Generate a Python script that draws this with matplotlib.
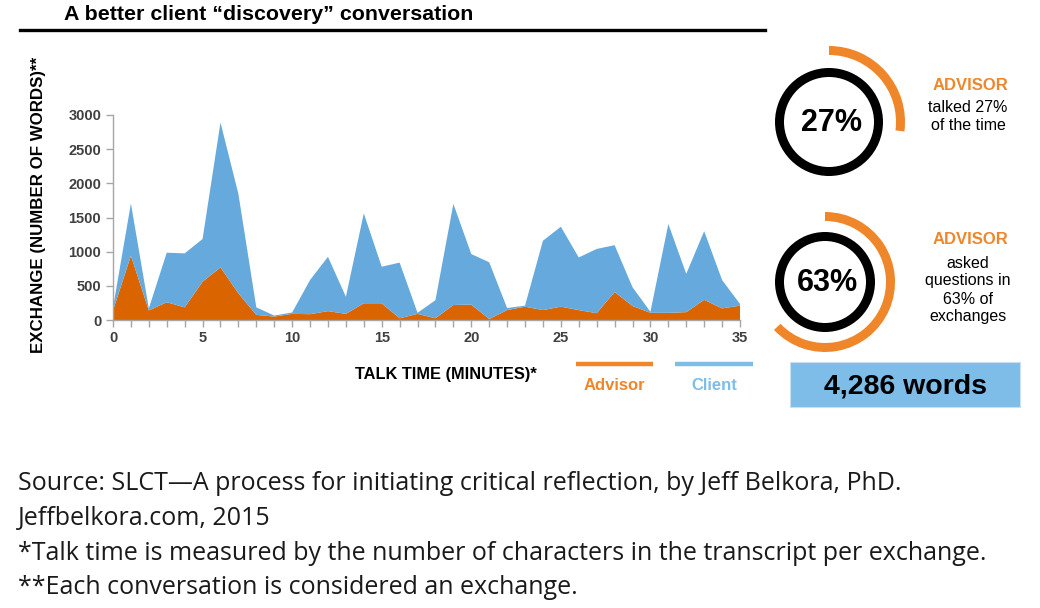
import matplotlib
matplotlib.use("Agg")
import matplotlib.pyplot as plt
from matplotlib.patches import Wedge, Rectangle
from matplotlib.lines import Line2D
from matplotlib.ticker import MultipleLocator

# ---- data ----
minutes = list(range(36))
advisor_words = [140, 940, 140, 260, 185, 560, 770, 390, 75, 50, 90, 85, 130, 90,
                 245, 245, 25, 90, 25, 220, 225, 15, 145, 195, 145, 195, 145, 100,
                 410, 205, 105, 105, 115, 295, 170, 210]
client_words = [40, 765, 30, 725, 790, 625, 2120, 1455, 110, 15, 20, 500, 795, 250,
                1315, 535, 815, 15, 265, 1480, 740, 830, 30, 15, 1015, 1170, 770, 940,
                685, 275, 15, 1300, 560, 1005, 415, 25]
series_names = ["Advisor", "Client"]
advisor_talk_pct = 27
advisor_question_pct = 63
total_words = 4286

title = "A better client \u201cdiscovery\u201d conversation"
footnotes = [
    "Source: SLCT\u2014A process for initiating critical reflection, by Jeff Belkora, PhD.",
    "Jeffbelkora.com, 2015",
    "*Talk time is measured by the number of characters in the transcript per exchange.",
    "**Each conversation is considered an exchange.",
]

ORANGE_FILL = "#D96400"
BLUE_FILL = "#66A9DC"
ORANGE = "#F0862A"
BLUE = "#7DBDE8"
W, H = 1040, 608
SANS = ["Liberation Sans", "DejaVu Sans"]
NARROW = ["Liberation Sans Narrow", "Liberation Sans", "DejaVu Sans"]

fig = plt.figure(figsize=(W / 100, H / 100), dpi=100)
fig.patch.set_facecolor("white")

# ---- main stacked area chart ----
ax = fig.add_axes([113 / W, 288 / H, 627 / W, 205 / H])
ax.stackplot(minutes, advisor_words, client_words,
             colors=[ORANGE_FILL, BLUE_FILL], linewidth=0)
ax.set_xlim(0, 35)
ax.set_ylim(0, 3000)
ax.xaxis.set_major_locator(MultipleLocator(5))
ax.xaxis.set_minor_locator(MultipleLocator(1))
ax.yaxis.set_major_locator(MultipleLocator(500))
for s in ["top", "right"]:
    ax.spines[s].set_visible(False)
for s in ["left", "bottom"]:
    ax.spines[s].set_color("#A6A6A6")
    ax.spines[s].set_linewidth(1)
ax.tick_params(axis="both", which="both", color="#A6A6A6", direction="out", length=5, width=1)
ax.tick_params(axis="x", which="major", pad=3)
for lab in ax.get_xticklabels() + ax.get_yticklabels():
    lab.set_family(SANS)
    lab.set_fontweight("bold")
    lab.set_fontsize(10.5)
    lab.set_color("#404040")

ax.set_ylabel("EXCHANGE (NUMBER OF WORDS)**", family=SANS, fontweight="bold",
              fontsize=12.2, color="black")
ax.yaxis.set_label_coords(-0.107, 0.56)
ax.set_xlabel("TALK TIME (MINUTES)*", family=SANS, fontweight="bold",
              fontsize=11.8, color="black")
ax.xaxis.set_label_coords(0.531, -0.229)

# ---- overlay in pixel coordinates for the decorations ----
ov = fig.add_axes([0, 0, 1, 1], zorder=5)
ov.set_xlim(0, W)
ov.set_ylim(H, 0)
ov.axis("off")
ov.patch.set_alpha(0)

ov.text(64, 14, title, family=NARROW, fontweight="bold", fontsize=15.4,
        ha="left", va="center", color="black")
ov.add_line(Line2D([20, 765], [30, 30], color="black", linewidth=2.4))

# legend
for (x0, x1), name, col in zip([(576, 653), (675, 753)], series_names, [ORANGE, BLUE]):
    ov.add_line(Line2D([x0, x1], [364, 364], color=col, linewidth=3.2,
                       solid_capstyle="butt"))
    ov.text((x0 + x1) / 2, 386, name, family=SANS, fontweight="bold", fontsize=12,
            color=col, ha="center", va="center")


def ring(cx, cy, r_black, r_orange, pct, label):
    ov.add_patch(Wedge((cx, cy), r_black, 0, 360, width=9, facecolor="black",
                       edgecolor="none"))
    # clockwise from the top (y axis is inverted on the overlay)
    ov.add_patch(Wedge((cx, cy), r_orange, 270, 270 + 360 * pct / 100, width=9,
                       facecolor=ORANGE, edgecolor="none"))
    ov.text(cx + 2, cy + 1, label, family=SANS, fontweight="bold", fontsize=22,
            ha="center", va="center", color="black")


ring(829, 122, 54, 76, advisor_talk_pct, f"{advisor_talk_pct}%")
ring(825, 282, 50, 70, advisor_question_pct, f"{advisor_question_pct}%")

ov.text(970, 86, "ADVISOR", family=SANS, fontweight="bold", fontsize=12,
        color=ORANGE, ha="center", va="center")
ov.text(968, 116, f"talked {advisor_talk_pct}%\nof the time", family=SANS, fontsize=11.5,
        color="black", ha="center", va="center", linespacing=1.25)
ov.text(970, 240, "ADVISOR", family=SANS, fontweight="bold", fontsize=12,
        color=ORANGE, ha="center", va="center")
ov.text(968, 290, f"asked\nquestions in\n{advisor_question_pct}% of\nexchanges", family=SANS,
        fontsize=11.5, color="black", ha="center", va="center", linespacing=1.25)

ov.add_patch(Rectangle((790, 362), 230, 45, facecolor=BLUE, edgecolor="#C9DFEE",
                       linewidth=0.8))
ov.text(905, 386, f"{total_words:,} words", family=SANS, fontweight="bold",
        fontsize=20.5, color="black", ha="center", va="center")

# footnotes
for i, line in enumerate(footnotes):
    ov.text(18, 483 + i * 35, line, family=["Open Sans", "Noto Sans", "DejaVu Sans"],
            fontsize=18, color="#1A1A1A", ha="left", va="center")

fig.savefig("out.png", dpi=100, facecolor="white")
